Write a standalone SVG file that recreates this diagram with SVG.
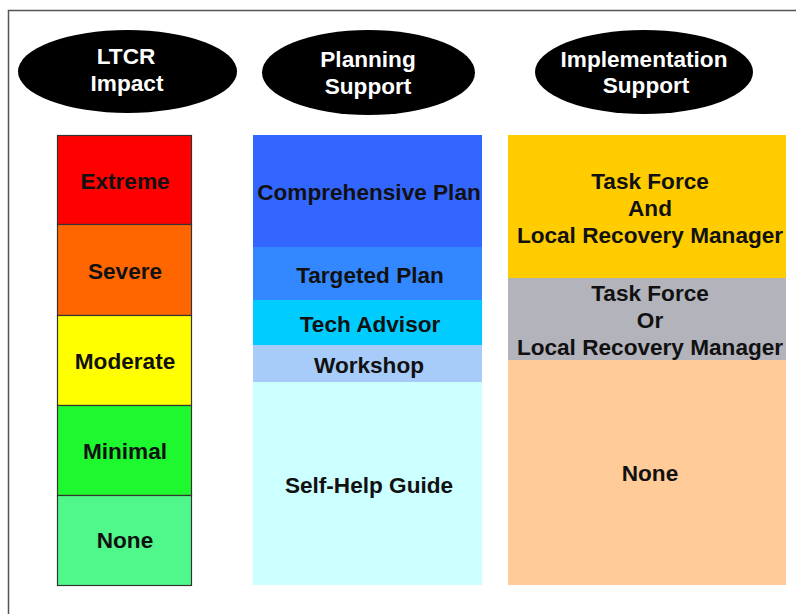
<svg xmlns="http://www.w3.org/2000/svg" width="796" height="614" viewBox="0 0 796 614">
<style>
.t{font-family:"Liberation Sans",Arial,sans-serif;font-weight:bold;font-size:22.6px;text-anchor:middle;fill:#111}
.h{font-family:"Liberation Sans",Arial,sans-serif;font-weight:bold;font-size:22.6px;text-anchor:middle;fill:#fff}
.c1{stroke:#333;stroke-width:1.2}
</style>
<rect width="796" height="614" fill="#fff"/>
<path d="M8.5 614 V10.5 H796" fill="none" stroke="#555" stroke-width="1.5"/>
<g id="hdr-ltcr">
<ellipse cx="127.5" cy="71.5" rx="109.5" ry="41.5" fill="#000"/>
<text class="h" x="126" y="64">LTCR</text>
<text class="h" x="127" y="91">Impact</text>
</g>
<g id="hdr-planning">
<ellipse cx="368.5" cy="72.5" rx="106.5" ry="42.5" fill="#000"/>
<text class="h" x="368" y="67">Planning</text>
<text class="h" x="368" y="94">Support</text>
</g>
<g id="hdr-impl">
<ellipse cx="644" cy="72" rx="109" ry="42" fill="#000"/>
<text class="h" x="644" y="67">Implementation</text>
<text class="h" x="646" y="93">Support</text>
</g>
<g id="col-ltcr">
<g id="extreme"><rect class="c1" x="57.5" y="135.5" width="134" height="89" fill="#FF0000"/><text class="t" x="125" y="189">Extreme</text></g>
<g id="severe"><rect class="c1" x="57.5" y="224.5" width="134" height="91" fill="#FF6600"/><text class="t" x="125" y="279">Severe</text></g>
<g id="moderate"><rect class="c1" x="57.5" y="315.5" width="134" height="90" fill="#FFFF00"/><text class="t" x="125" y="369">Moderate</text></g>
<g id="minimal"><rect class="c1" x="57.5" y="405.5" width="134" height="90" fill="#1EF82E"/><text class="t" x="125" y="459">Minimal</text></g>
<g id="none1"><rect class="c1" x="57.5" y="495.5" width="134" height="90" fill="#50F88C"/><text class="t" x="125" y="548">None</text></g>
</g>
<g id="col-planning">
<g id="comprehensive"><rect x="253" y="135" width="229" height="112" fill="#3366FF"/><text class="t" x="369" y="200">Comprehensive Plan</text></g>
<g id="targeted"><rect x="253" y="247" width="229" height="53" fill="#3388FF"/><text class="t" x="370" y="283">Targeted Plan</text></g>
<g id="tech"><rect x="253" y="300" width="229" height="45" fill="#00CCFF"/><text class="t" x="370" y="332">Tech Advisor</text></g>
<g id="workshop"><rect x="253" y="345" width="229" height="37" fill="#A8CCFA"/><text class="t" x="369" y="373">Workshop</text></g>
<g id="selfhelp"><rect x="253" y="382" width="229" height="203" fill="#CCFFFF"/><text class="t" x="369" y="493">Self-Help Guide</text></g>
</g>
<g id="col-impl">
<g id="taskforce-and"><rect x="508" y="135" width="278" height="143" fill="#FFCC00"/>
<text class="t" x="650" y="189">Task Force</text><text class="t" x="650" y="216">And</text><text class="t" x="650" y="243">Local Recovery Manager</text></g>
<g id="taskforce-or"><rect x="508" y="278" width="278" height="82" fill="#B3B3BB"/>
<text class="t" x="650" y="301">Task Force</text><text class="t" x="650" y="328">Or</text><text class="t" x="650" y="355">Local Recovery Manager</text></g>
<g id="none3"><rect x="508" y="360" width="278" height="225" fill="#FFCC99"/><text class="t" x="650" y="481">None</text></g>
</g>
<g id="connectors"/>
</svg>
